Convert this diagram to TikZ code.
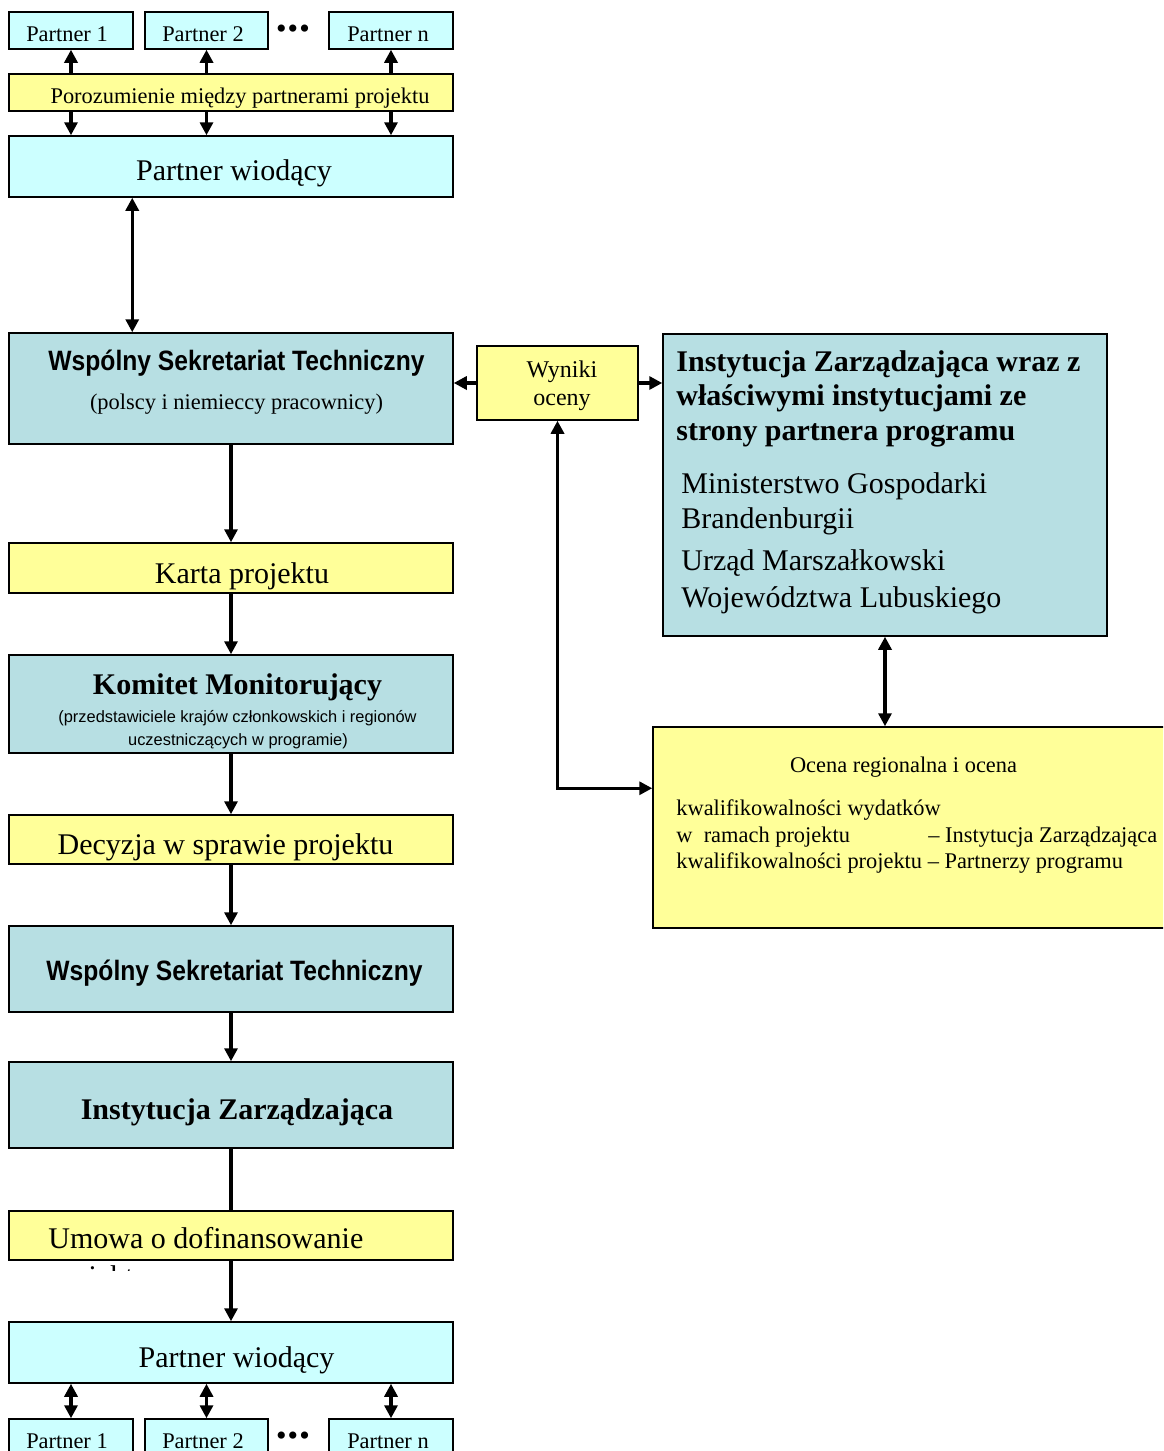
\documentclass[tikz,border=0pt]{standalone}
\usepackage{fontspec}
\setmainfont{Liberation Serif}
\newfontfamily\narrowsans[FakeStretch=0.88]{Liberation Sans}
\newfontfamily\arialf{Liberation Sans}
\usetikzlibrary{arrows.meta,calc}
\definecolor{cyanfill}{HTML}{CCFFFF}
\definecolor{yelfill}{HTML}{FFFF99}
\definecolor{tealfill}{HTML}{B7DFE3}
\begin{document}
\begin{tikzpicture}[x=0.5pt,y=-0.5pt,
  bx/.style 2 args={draw,line width=0.75pt,inner sep=0pt,minimum width=#1*0.5pt,minimum height=#2*0.5pt},
  cy/.style={fill=cyanfill},
  ye/.style={fill=yelfill},
  te/.style={fill=tealfill},
  arr/.style={line width=1.6pt,-{Triangle[length=6.5pt,width=6.5pt]}},
  dbl/.style={line width=1.6pt,{Triangle[length=6.5pt,width=6.5pt]}-{Triangle[length=6.5pt,width=6.5pt]}},
  ln/.style={line width=1.6pt},
  tsm/.style={inner sep=0pt,anchor=base,font=\fontsize{11.2}{13.5}\selectfont},
  tsmw/.style={inner sep=0pt,anchor=base west,font=\fontsize{11.2}{13.5}\selectfont},
  tbig/.style={inner sep=0pt,anchor=base,font=\fontsize{15}{17}\selectfont},
  tbigw/.style={inner sep=0pt,anchor=base west,font=\fontsize{15}{17}\selectfont},
  tbold/.style={inner sep=0pt,anchor=base,font=\bfseries\fontsize{15}{17}\selectfont},
  tboldw/.style={inner sep=0pt,anchor=base west,font=\bfseries\fontsize{15}{17}\selectfont},
  tnar/.style={inner sep=0pt,anchor=base,font=\narrowsans\bfseries\fontsize{14}{16}\selectfont},
  tari/.style={inner sep=0pt,anchor=base,font=\arialf\fontsize{8.2}{10}\selectfont},
  tdots/.style={inner sep=0pt,font=\fontsize{15}{17}\selectfont}
]
\useasboundingbox (0,0) rectangle (1163,1451);
\clip (0,0) rectangle (1163,1451);

% ---------- top partners ----------
\node[bx={124}{37},cy] (p1) at (71,30.5) {};
\node[bx={123}{37},cy] (p2) at (206.5,30.5) {};
\node[bx={124}{37},cy] (pn) at (391,30.5) {};
\node[tsm] (p1t) at (67,41) {Partner 1};
\node[tsm] (p2t) at (203,41) {Partner 2};
\node[tsm] (pnt) at (388,41) {Partner n};
\node[tdots] (dots1) at (293,32) {•\kern0.6pt•\kern0.6pt•};

\node[bx={444}{37},ye] (poro) at (231,92.5) {};
\node[tsm] (porot) at (240,103) {Porozumienie między partnerami projektu};

\node[bx={444}{61},cy] (pw1) at (231,166.5) {};
\node[tbig] (pw1t) at (234,180) {Partner wiodący};

\foreach \p in {p1,p2,pn}{
  \draw[arr] (poro.north -| \p) -- (\p.south);
  \draw[arr] (poro.south -| \p) -- (pw1.north -| \p);
}

% ---------- WST ----------
\node[bx={444}{111},te] (wst1) at (231,388.5) {};
\node[tnar] (wst1t) at (236.5,370) {Wspólny Sekretariat Techniczny};
\node[tsm] (wst1s) at (236.5,409) {(polscy i niemieccy pracownicy)};

\draw[dbl] ($(pw1.south west)+(124,0)$) -- ($(wst1.north west)+(124,0)$);

% ---------- Wyniki oceny ----------
\node[bx={161}{74},ye] (wyn) at (557.5,383) {};
\node[inner sep=0pt,anchor=base,font=\fontsize{12}{14}\selectfont] (wyn1) at (562,377) {Wyniki};
\node[inner sep=0pt,anchor=base,font=\fontsize{12}{14}\selectfont] (wyn2) at (562,405) {oceny};

% ---------- IZ right ----------
\node[bx={444}{302},te] (izr) at (885,485) {};
\node[tboldw] (izr1) at (676,371) {Instytucja Zarządzająca wraz z};
\node[tboldw] (izr2) at (676,405) {właściwymi instytucjami ze};
\node[tboldw] (izr3) at (676,440) {strony partnera programu};
\node[tbigw] (izr4) at (681,493) {Ministerstwo Gospodarki};
\node[tbigw] (izr5) at (681,528) {Brandenburgii};
\node[tbigw] (izr6) at (681,570) {Urząd Marszałkowski};
\node[tbigw] (izr7) at (681,607) {Województwa Lubuskiego};

% ---------- Ocena ----------
\node[bx={522}{201},ye] (ocena) at (914,827.5) {};
\node[tsm] (oc1) at (903.5,772) {Ocena regionalna i ocena};
\node[tsmw] (oc2) at (676,815) {kwalifikowalności wydatków};
\node[tsmw] (oc3) at (676,842) {w\ \ ramach projektu};
\node[tsmw] (oc4) at (928,842) {– Instytucja Zarządzająca};
\node[tsmw] (oc5) at (676,868) {kwalifikowalności projektu – Partnerzy programu};

\draw[arr] (wyn.west) -- (wyn.west -| wst1.east);
\draw[arr] (wyn.east) -- (wyn.east -| izr.west);
\draw[dbl] (wyn.south) |- ($(ocena.north west)+(0,62)$);
\draw[dbl] (izr.south) -- (izr.south |- ocena.north);

% ---------- main chain ----------
\node[bx={444}{50},ye] (karta) at (231,568) {};
\node[tbig] (kartat) at (242,583) {Karta projektu};

\node[bx={444}{98},te] (km) at (231,704) {};
\node[tbold] (kmt) at (237.5,694) {Komitet Monitorujący};
\node[tari] (kms1) at (237.5,722) {(przedstawiciele krajów członkowskich i regionów};
\node[tari] (kms2) at (238,745) {uczestniczących w programie)};

\node[bx={444}{49},ye] (dec) at (231,839.5) {};
\node[tbig] (dect) at (225.5,854) {Decyzja w sprawie projektu};

\node[bx={444}{86},te] (wst2) at (231,969) {};
\node[tnar] (wst2t) at (234.5,980) {Wspólny Sekretariat Techniczny};

\node[bx={444}{86},te] (izl) at (231,1105) {};
\node[tbold] (izlt) at (237,1119) {Instytucja Zarządzająca};

\node[bx={444}{49},ye] (umowa) at (231,1235.5) {};
\node[tbigw] (umowat) at (48,1248) {Umowa o dofinansowanie};
\begin{scope}
  \clip (40,1261) rectangle (300,1270);
  \node[tbigw] (umowat2) at (48,1286) {projektu};
\end{scope}

\node[bx={444}{61},cy] (pw2) at (231,1352.5) {};
\node[tbig] (pw2t) at (236.5,1367) {Partner wiodący};

\draw[arr] (wst1.south) -- (karta.north);
\draw[arr] (karta.south) -- (km.north);
\draw[arr] (km.south) -- (dec.north);
\draw[arr] (dec.south) -- (wst2.north);
\draw[arr] (wst2.south) -- (izl.north);
\draw[ln] (izl.south) -- (umowa.north);
\draw[arr] (umowa.south) -- (pw2.north);

% ---------- bottom partners ----------
\node[bx={124}{37},cy] (bp1) at (71,1437.5) {};
\node[bx={123}{37},cy] (bp2) at (206.5,1437.5) {};
\node[bx={124}{37},cy] (bpn) at (391,1437.5) {};
\node[tsm] (bp1t) at (67,1448) {Partner 1};
\node[tsm] (bp2t) at (203,1448) {Partner 2};
\node[tsm] (bpnt) at (388,1448) {Partner n};
\node[tdots] (dots2) at (293,1439) {•\kern0.6pt•\kern0.6pt•};

\foreach \p in {bp1,bp2,bpn}{
  \draw[dbl] (pw2.south -| \p) -- (\p.north);
}
\end{tikzpicture}
\end{document}
